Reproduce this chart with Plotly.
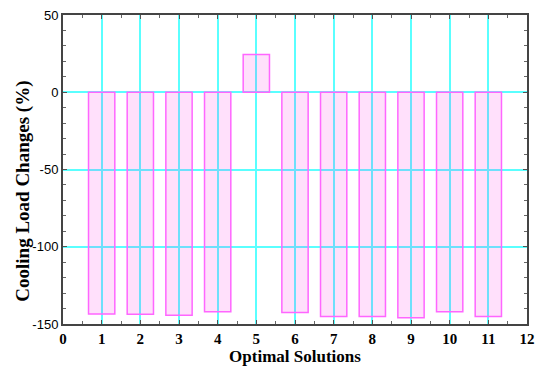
import plotly.graph_objects as go

solutions = [1, 2, 3, 4, 5, 6, 7, 8, 9, 10, 11]
load_changes = [-143.5, -143.7, -144.4, -142.0, 24.4, -142.6, -145.2, -145.2, -145.9, -142.0, -145.2]
x_ticks = list(range(0, 13))
y_ticks = [50, 0, -50, -100, -150]

fig = go.Figure()
fig.add_trace(go.Bar(
    x=solutions, y=load_changes, width=0.68,
    marker=dict(color="rgba(255,0,220,0.12)",
                line=dict(color="#ff66ff", width=1.5)),
))

grid = "rgb(90,255,255)"
fig.update_layout(
    template="none",
    width=537, height=371,
    margin=dict(l=63, r=10, t=15, b=47),
    paper_bgcolor="white", plot_bgcolor="white",
    showlegend=False,
    xaxis=dict(
        range=[0, 12], tickvals=x_ticks, ticktext=[str(v) for v in x_ticks],
        ticks="inside", ticklen=4, tickcolor="#555", mirror="ticks",
        showline=True, linecolor="#444", linewidth=2,
        showgrid=True, gridcolor=grid, gridwidth=1.5,
        zeroline=False,
        minor=dict(dtick=0.5, ticks="inside", ticklen=3, tickcolor="#666", showgrid=False),
        tickfont=dict(family="Liberation Serif", size=15, color="black", weight="bold"),
        title=dict(text="Optimal Solutions", standoff=4,
                   font=dict(family="Liberation Serif", size=17, color="black", weight="bold")),
    ),
    yaxis=dict(
        range=[-150, 50], tickvals=y_ticks, ticktext=[str(v) for v in y_ticks],
        ticks="inside", ticklen=4, tickcolor="#555", mirror="ticks",
        showline=True, linecolor="#444", linewidth=2,
        showgrid=True, gridcolor=grid, gridwidth=1.5,
        zeroline=False,
        minor=dict(dtick=10, ticks="inside", ticklen=3, tickcolor="#666", showgrid=False),
        tickfont=dict(family="Liberation Sans", size=13, color="black"),
    ),
    annotations=[dict(
        text="<b>Cooling Load Changes (%)</b>", textangle=-90,
        xref="paper", yref="paper", x=-0.085, y=0.43,
        xanchor="center", yanchor="middle", showarrow=False,
        font=dict(family="Liberation Serif", size=19, color="black"),
    )],
)

fig.write_html("out.html")
